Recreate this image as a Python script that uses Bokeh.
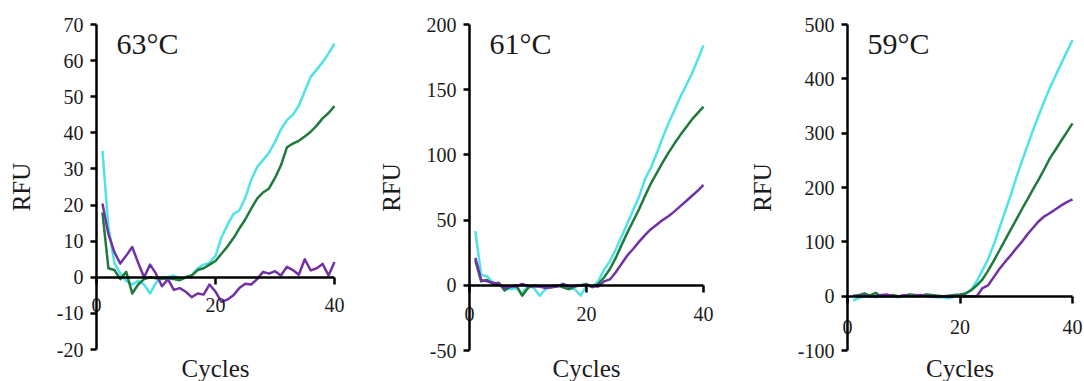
from bokeh.plotting import figure
from bokeh.layouts import row
from bokeh.models import FixedTicker, Range1d, Label
from bokeh.embed import file_html
from bokeh.resources import INLINE

cycles = list(range(1, 41))

# 63 °C panel
cyan_63 = [35, 14, 4, 1, -1, -2, -1, -2, -4.5, -1.5, 0, 0, 0.5, -0.5, 0, 0.5, 2.5, 3.5, 4, 6,
           11, 14.5, 17.5, 18.5, 22, 27, 30.5, 32.5, 34.5, 37.5, 41, 43.5, 45, 47.5, 51.5, 55.5, 57.5, 59.5, 62, 64.7]
green_63 = [18, 2.5, 2, -0.5, 1.5, -4.5, -2, -0.5, 0, -0.3, -0.5, -0.3, -0.5, -0.8, 0, 0.5, 2, 2.5, 3.5, 4.5,
            6.5, 8.5, 10.8, 13.5, 16, 19, 21.8, 23.5, 24.6, 27.5, 31, 36, 37, 37.8, 39, 40.3, 42, 44, 45.5, 47.4]
purple_63 = [20.4, 12, 7, 3.8, 6, 8.4, 4, 0, 3.5, 1, -2.5, -0.5, -3.5, -3, -4, -5.5, -4.5, -4.8, -2, -4,
             -6.8, -6.2, -5, -3, -1.8, -2, -0.5, 1.5, 1, 1.7, 0.5, 2.9, 2, 0.7, 5, 1.9, 2.5, 3.7, 0.5, 4.2]

# 61 °C panel
cyan_61 = [41.5, 8, 7, 2, 0, -1, -3, -2, -6.5, 0, -2, -8, -3, 0, -1, 1, -2, -3, -8, 0,
           -1, 3, 12, 18.5, 27.5, 37.5, 47.5, 58, 68, 81.5, 90, 101, 113, 124, 134, 144, 153, 162, 173, 184]
green_61 = [19, 3, 4, 1, 2, -4, -1, 0, -8, -2, 0, -1, -1, -1.5, 0, -1.5, -3, -1, 0, 1,
            -1.5, 1, 6, 12.5, 21, 31, 40.5, 49.5, 58.5, 68.5, 78, 86, 94, 101.5, 108.5, 115, 121, 127, 132, 137]
purple_61 = [21, 4, 3, 2, 1, -2, -1, -1, 1, -0.5, -1, -1, -2, -1.5, -1, 1, -1, -0.5, 0, 0,
             -1, -1, 3, 4.5, 10, 16.5, 23, 28, 33.5, 38.5, 43, 46.5, 50, 53, 56.5, 60.5, 64.5, 68.5, 72.5, 77]

# 59 °C panel
cyan_59 = [-8, -3, -1, 0, -2, 0, -1, 0, -2, 0, 1, -1, 0, 1, -1, -2, -2, -4, -1, 1,
           4, 12, 28, 48, 68, 95, 125, 155, 185, 218, 248, 277, 306, 333, 359, 384, 406, 428, 450, 471]
green_59 = [0, 2, 5, 1, 6, -1, 1, 2, 0, 1, 3, 2, 1, 3, 2, 1, 0, 1, 2, 3,
            5, 11, 20, 31, 47, 65, 84, 103, 122, 141, 160, 178, 197, 215, 234, 254, 270, 286, 302, 318]
purple_59 = [1, 0, 1, -1, 0, 2, 3, 0, -1, 2, 0, 1, 2, 0, -1, 0, -1, 0, 0, 0,
             0, 0, 0, 15, 20, 35, 50, 63, 75, 88, 100, 114, 126, 138, 147, 153, 160, 167, 173, 178]

titles = ["63°C", "61°C", "59°C"]
y_bounds = [(-20, 70), (-50, 200), (-100, 500)]
y_steps = [10, 50, 100]
x_bounds = (0, 40)
x_ticks = [0, 20, 40]

CYAN = "#4FE2E8"
GREEN = "#1E7B3C"
PURPLE = "#7232A6"
TEXT = "#1a1a1a"
FONT = "Liberation Serif"
H = 381


def make_panel(title_text, yb, ystep, cyan, green, purple, fig_w, ax_left, ax_right, ax_top, ax_bottom, x_standoff):
    # pixel layout -> data ranges covering the whole canvas (axes drawn at fixed locations)
    sx = (ax_right - ax_left) / (x_bounds[1] - x_bounds[0])
    sy = (ax_bottom - ax_top) / (yb[1] - yb[0])
    x_rng = (x_bounds[0] - ax_left / sx, x_bounds[1] + (fig_w - ax_right) / sx)
    y_rng = (yb[0] - (H - ax_bottom) / sy, yb[1] + ax_top / sy)

    p = figure(width=fig_w, height=H,
               x_range=Range1d(*x_rng), y_range=Range1d(*y_rng),
               output_backend="svg", toolbar_location=None,
               min_border=0, min_border_left=0, min_border_right=0,
               min_border_top=0, min_border_bottom=0)
    p.title.visible = False
    p.outline_line_color = None
    p.xgrid.visible = False
    p.ygrid.visible = False

    for ys, col in ((cyan, CYAN), (green, GREEN), (purple, PURPLE)):
        p.line(cycles, ys, line_color=col, line_width=2.5, line_join="round")

    yticks = list(range(yb[0], yb[1] + 1, ystep))
    ya = p.yaxis[0]
    ya.fixed_location = 0
    ya.bounds = yb
    ya.ticker = FixedTicker(ticks=yticks)
    ya.major_label_overrides = {t: str(t) for t in yticks}
    ya.axis_line_width = 2.5
    ya.major_tick_line_width = 2.5
    ya.major_tick_in = 0
    ya.major_tick_out = 6
    ya.minor_tick_out = 0
    ya.minor_tick_in = 0
    ya.major_label_standoff = 7
    ya.major_label_text_font = FONT
    ya.major_label_text_font_size = "20px"
    ya.major_label_text_color = TEXT
    ya.axis_label = "RFU"
    ya.axis_label_text_font = FONT
    ya.axis_label_text_font_size = "25px"
    ya.axis_label_text_font_style = "normal"
    ya.axis_label_text_color = TEXT
    ya.axis_label_standoff = 19

    xa = p.xaxis[0]
    xa.fixed_location = 0
    xa.bounds = x_bounds
    xa.ticker = FixedTicker(ticks=x_ticks)
    xa.axis_line_width = 2.5
    xa.major_tick_line_width = 2.5
    xa.major_tick_in = 0
    xa.major_tick_out = 7
    xa.minor_tick_out = 0
    xa.minor_tick_in = 0
    xa.major_label_standoff = x_standoff
    xa.major_label_text_font = FONT
    xa.major_label_text_font_size = "20px"
    xa.major_label_text_color = TEXT

    # "Cycles" caption centred under the plot area
    p.add_layout(Label(x=(x_bounds[0] + x_bounds[1]) / 2, y=yb[0] - (368 - ax_bottom) / sy,
                       text="Cycles", text_font=FONT, text_font_size="25px",
                       text_align="center", text_baseline="middle", text_color=TEXT))

    # temperature label in the top-left corner
    p.add_layout(Label(x=x_bounds[0] + 20 / sx, y=yb[1], text=title_text,
                       text_font=FONT, text_font_size="30px", text_baseline="top",
                       text_color=TEXT, y_offset=-2))
    return p


p1 = make_panel(titles[0], y_bounds[0], y_steps[0], cyan_63, green_63, purple_63, 360, 96, 334, 24, 349, 14)
p2 = make_panel(titles[1], y_bounds[1], y_steps[1], cyan_61, green_61, purple_61, 360, 109, 343, 24, 350, 15)
p3 = make_panel(titles[2], y_bounds[2], y_steps[2], cyan_59, green_59, purple_59, 364, 127, 352, 24, 350, 17)

layout = row(p1, p2, p3, spacing=0)
open("out.html", "w").write(file_html(layout, INLINE))
